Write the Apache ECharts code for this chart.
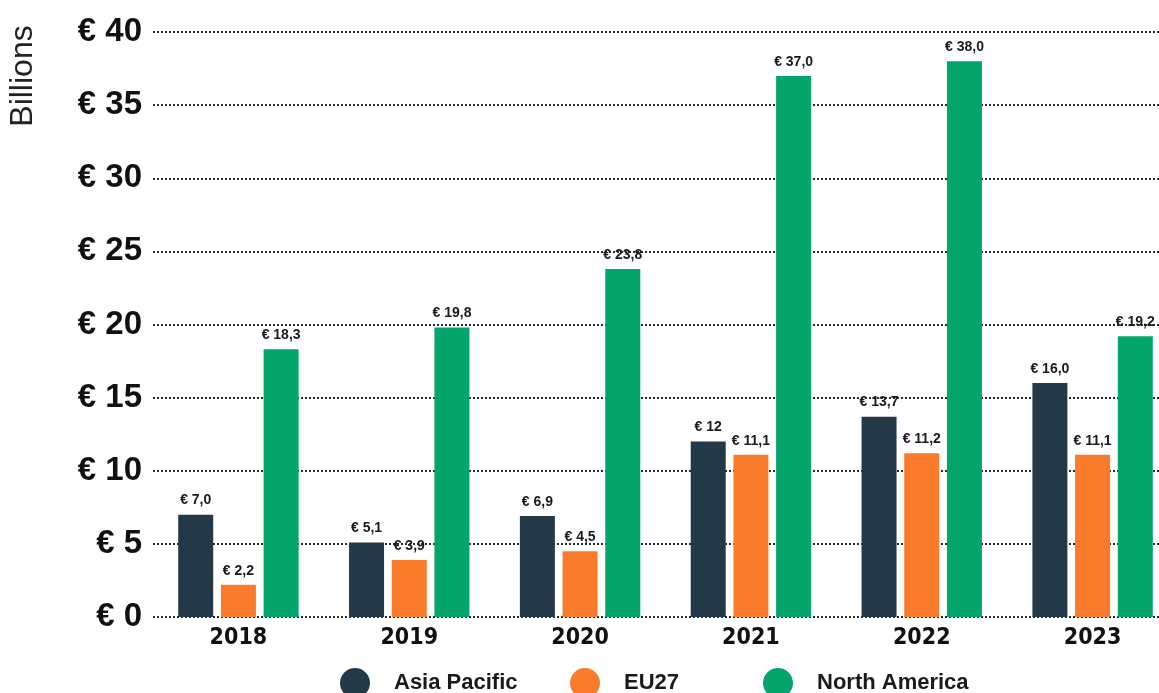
<!DOCTYPE html>
<html>
<head>
<meta charset="utf-8">
<script src="https://cdn.jsdelivr.net/npm/echarts@6/dist/echarts.min.js"></script>
<style>
  html, body { margin: 0; padding: 0; background: #ffffff; overflow: hidden; }
  /* the canvas is a little wider than the page, so the last group sits close to the edge */
  #chart { width: 1178px; height: 693px; }
</style>
</head>
<body>
<div id="chart"></div>
<script>
// Investment by region, € billions
const years = ['2018', '2019', '2020', '2021', '2022', '2023'];
const asiaPacific = [7.0, 5.1, 6.9, 12, 13.7, 16.0];
const eu27 = [2.2, 3.9, 4.5, 11.1, 11.2, 11.1];
const northAmerica = [18.3, 19.8, 23.8, 37.0, 38.0, 19.2];
// values whose label is shown without a decimal
const wholeNumberLabels = { 'Asia Pacific': ['2021'] };

const colors = { 'Asia Pacific': '#243947', 'EU27': '#f97b2c', 'North America': '#04a56b' };

const SANS = '"Liberation Sans", Arial, Helvetica, sans-serif';
const NARROW = '"DejaVu Sans Condensed", "DejaVu Sans", sans-serif';

function euro(v, whole) {
  return '€ ' + (whole ? String(Math.round(v)) : v.toFixed(1).replace('.', ','));
}

function makeSeries(name, values) {
  const whole = wholeNumberLabels[name] || [];
  return {
    name: name,
    type: 'bar',
    barWidth: 35,
    barGap: '22%',
    itemStyle: { color: colors[name] },
    label: {
      show: true,
      position: 'top',
      distance: 7,
      color: '#1a1a1a',
      fontFamily: SANS,
      fontWeight: 'bold',
      fontSize: 14
    },
    data: values.map((v, i) => ({
      value: v,
      label: { formatter: euro(v, whole.indexOf(years[i]) >= 0) }
    }))
  };
}

function legendFor(name, left) {
  return {
    data: [name],
    left: left,
    top: 668,
    padding: 0,
    icon: 'circle',
    itemWidth: 30,
    itemHeight: 30,
    selectedMode: false,
    textStyle: {
      fontFamily: SANS,
      fontWeight: 'bold',
      fontSize: 22,
      color: '#1a1a1a',
      padding: [0, 0, 0, 19]
    }
  };
}

const chart = echarts.init(document.getElementById('chart'), null, { renderer: 'canvas' });

chart.setOption({
  animation: false,
  backgroundColor: '#ffffff',
  grid: { left: 153, right: 0, top: 32, height: 585, containLabel: false },
  legend: [
    legendFor('Asia Pacific', 340),
    legendFor('EU27', 570),
    legendFor('North America', 763)
  ],
  graphic: [{
    type: 'text',
    x: 23,
    y: 76,
    rotation: Math.PI / 2,
    style: {
      text: 'Billions',
      fontFamily: SANS,
      fontSize: 32,
      fill: '#222222',
      align: 'center',
      verticalAlign: 'middle'
    }
  }],
  xAxis: {
    type: 'category',
    data: years,
    axisLine: { show: false },
    axisTick: { show: false },
    axisLabel: {
      margin: 10,
      color: '#111111',
      fontFamily: NARROW,
      fontWeight: 'bold',
      fontSize: 23
    }
  },
  yAxis: {
    type: 'value',
    min: 0,
    max: 40,
    interval: 5,
    axisLine: { show: false },
    axisTick: { show: false },
    axisLabel: {
      margin: 11,
      color: '#111111',
      fontFamily: SANS,
      fontWeight: 'bold',
      fontSize: 33,
      formatter: '€ {value}'
    },
    splitLine: {
      show: true,
      lineStyle: { color: '#2a2a2a', width: 2, type: [2, 2] }
    }
  },
  series: [
    makeSeries('Asia Pacific', asiaPacific),
    makeSeries('EU27', eu27),
    makeSeries('North America', northAmerica)
  ]
});
</script>
</body>
</html>
